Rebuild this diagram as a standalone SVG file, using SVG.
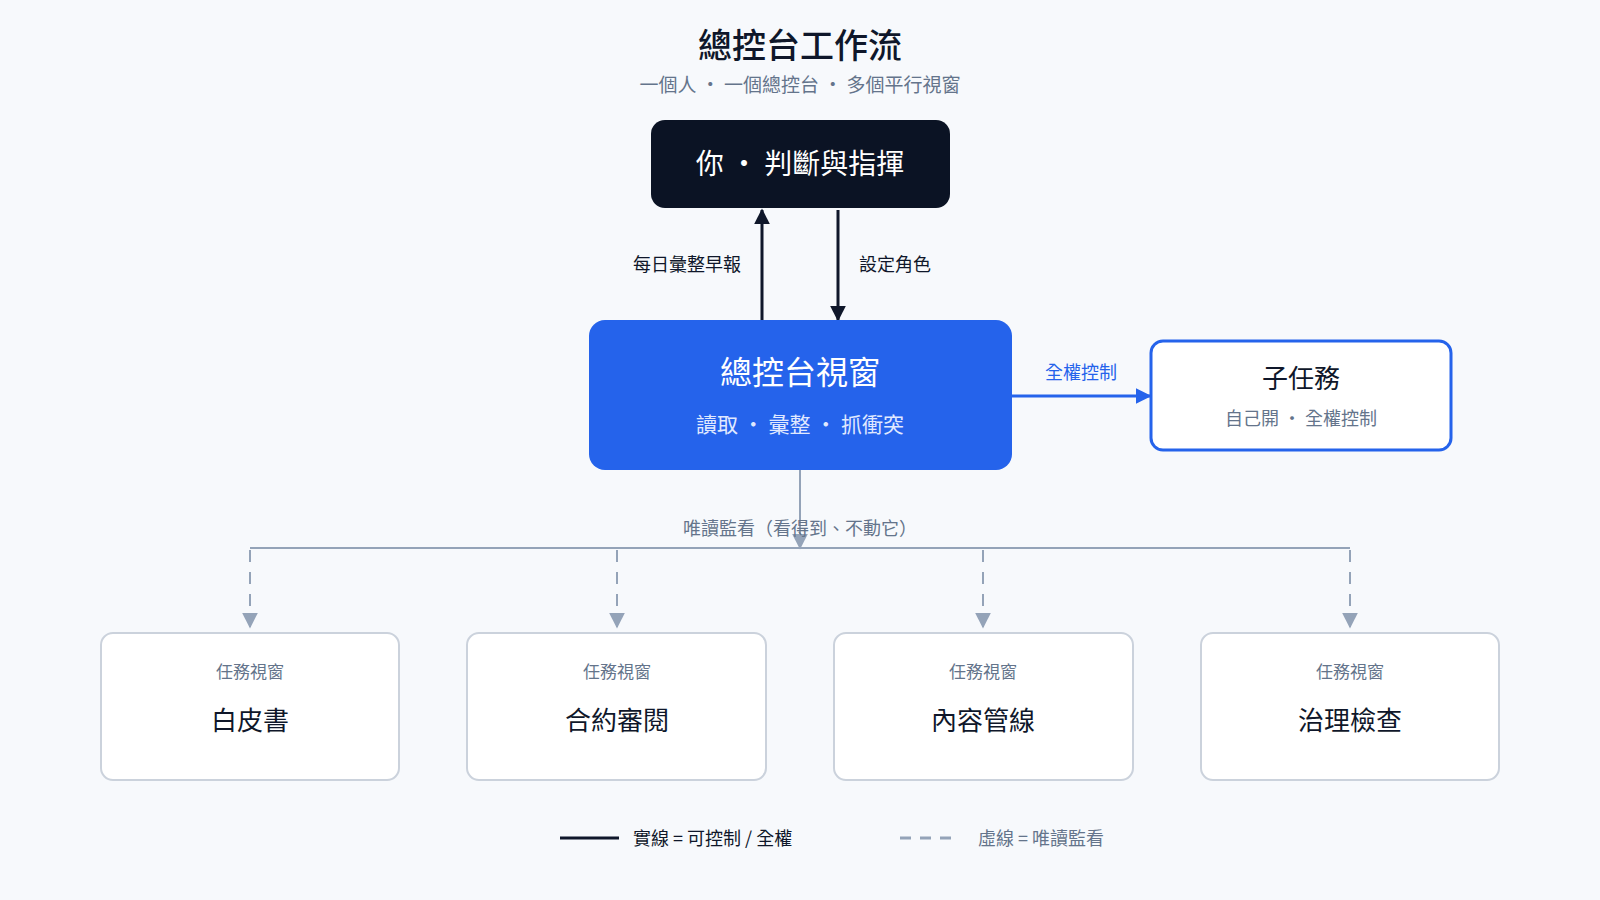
<svg xmlns="http://www.w3.org/2000/svg" width="1600" height="900" viewBox="0 0 1600 900">
<style>
text{font-family:"Noto Sans CJK TC","Noto Sans CJK SC",sans-serif;}
.c{text-anchor:middle}
.task{fill:#fff;stroke:#cbd2dc;stroke-width:2}
.tl{font-size:17px;fill:#64748b}
.tt{font-size:26px;fill:#0f172a}
.ds{stroke:#94a3b8;stroke-width:2;stroke-dasharray:12 10;fill:none}
</style>
<defs>
<marker id="ad" viewBox="0 0 10 10" refX="9" refY="5" markerWidth="16" markerHeight="16" markerUnits="userSpaceOnUse" orient="auto"><path d="M0,0L10,5L0,10z" fill="#0f172a"/></marker>
<marker id="ab" viewBox="0 0 10 10" refX="9" refY="5" markerWidth="16" markerHeight="16" markerUnits="userSpaceOnUse" orient="auto"><path d="M0,0L10,5L0,10z" fill="#2563eb"/></marker>
<marker id="ag" viewBox="0 0 10 10" refX="9" refY="5" markerWidth="16" markerHeight="16" markerUnits="userSpaceOnUse" orient="auto"><path d="M0,0L10,5L0,10z" fill="#94a3b8"/></marker>
</defs>
<rect width="1600" height="900" fill="#f7f9fc"/>
<text x="800" y="58" class="c" font-size="34" font-weight="500" fill="#0f172a">總控台工作流</text>
<text x="800" y="92" class="c" font-size="19" fill="#64748b">一個人 ·  一個總控台 ·  多個平行視窗</text>
<g id="connectors">
<line x1="762" y1="320" x2="762" y2="210" stroke="#0f172a" stroke-width="3" marker-end="url(#ad)"/>
<line x1="838" y1="210" x2="838" y2="320" stroke="#0f172a" stroke-width="3" marker-end="url(#ad)"/>
<text x="741" y="271" text-anchor="end" font-size="18" fill="#0f172a">每日彙整早報</text>
<text x="859" y="271" font-size="18" fill="#0f172a">設定角色</text>
<line x1="1012" y1="396" x2="1150" y2="396" stroke="#2563eb" stroke-width="3" marker-end="url(#ab)"/>
<text x="1081" y="379" class="c" font-size="18" fill="#2563eb">全權控制</text>
<line x1="800" y1="470" x2="800" y2="548" stroke="#94a3b8" stroke-width="2" marker-end="url(#ag)"/>
<line x1="250" y1="548" x2="1350" y2="548" stroke="#94a3b8" stroke-width="2"/>
<text x="800" y="535" class="c" font-size="18" fill="#64748b">唯讀監看（看得到、不動它）</text>
<path class="ds" d="M250,550V627" marker-end="url(#ag)"/>
<path class="ds" d="M617,550V627" marker-end="url(#ag)"/>
<path class="ds" d="M983,550V627" marker-end="url(#ag)"/>
<path class="ds" d="M1350,550V627" marker-end="url(#ag)"/>
</g>
<g id="you"><rect x="651" y="120" width="299" height="88" rx="14" fill="#0b1324"/>
<text x="800" y="174" class="c" font-size="28" fill="#fff">你 ·  判斷與指揮</text></g>
<g id="console"><rect x="589" y="320" width="423" height="150" rx="16" fill="#2563eb"/>
<text x="800" y="384" class="c" font-size="32" fill="#fff">總控台視窗</text>
<text x="800" y="432" class="c" font-size="21" fill="#e0e9ff">讀取 ·  彙整 ·  抓衝突</text></g>
<g id="sub"><rect x="1151" y="341" width="300" height="109" rx="12" fill="#fff" stroke="#2563eb" stroke-width="3"/>
<text x="1301" y="388" class="c" font-size="26" fill="#0f172a">子任務</text>
<text x="1301" y="425" class="c" font-size="18" fill="#64748b">自己開 ·  全權控制</text></g>
<g id="t1"><rect class="task" x="101" y="633" width="298" height="147" rx="12"/><text x="250" y="678" class="c tl">任務視窗</text><text x="250" y="730" class="c tt">白皮書</text></g>
<g id="t2"><rect class="task" x="467" y="633" width="299" height="147" rx="12"/><text x="617" y="678" class="c tl">任務視窗</text><text x="617" y="730" class="c tt">合約審閱</text></g>
<g id="t3"><rect class="task" x="834" y="633" width="299" height="147" rx="12"/><text x="983" y="678" class="c tl">任務視窗</text><text x="983" y="730" class="c tt">內容管線</text></g>
<g id="t4"><rect class="task" x="1201" y="633" width="298" height="147" rx="12"/><text x="1350" y="678" class="c tl">任務視窗</text><text x="1350" y="730" class="c tt">治理檢查</text></g>
<g id="legend">
<line x1="560" y1="838" x2="619" y2="838" stroke="#0f172a" stroke-width="3"/>
<text x="633" y="845" font-size="18" fill="#0f172a">實線 = 可控制 / 全權</text>
<line x1="900" y1="838" x2="957" y2="838" stroke="#94a3b8" stroke-width="3" stroke-dasharray="11 9"/>
<text x="978" y="845" font-size="18" fill="#64748b">虛線 = 唯讀監看</text>
</g>
</svg>
